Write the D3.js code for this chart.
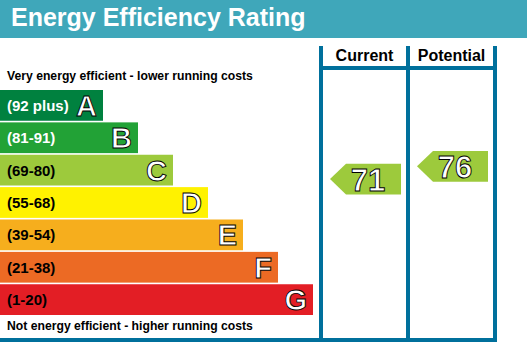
<!DOCTYPE html>
<html>
<head>
<meta charset="utf-8">
<script src="https://cdnjs.cloudflare.com/ajax/libs/d3/7.8.5/d3.min.js"></script>
<style>
  body { margin: 0; background: #fff; }
  text { font-family: "Liberation Sans", Arial, sans-serif; font-weight: bold; }
</style>
</head>
<body>
<div id="chart"></div>
<script>
// band data
var letters = ["A", "B", "C", "D", "E", "F", "G"];
var rangeLabels = ["(92 plus)", "(81-91)", "(69-80)", "(55-68)", "(39-54)", "(21-38)", "(1-20)"];
var bandLow = [92, 81, 69, 55, 39, 21, 1];
var bandHigh = [100, 91, 80, 68, 54, 38, 20];
var bandColors = ["#00813f", "#22a236", "#9dca3c", "#fff200", "#f6ae1d", "#ec6a24", "#e31e25"];
var labelColors = ["#fff", "#fff", "#000", "#000", "#000", "#000", "#000"];

// ratings
var columns = ["Current", "Potential"];
var ratings = [71, 76];

var width = 527, height = 354;
var lineColor = "#00709c";

var svg = d3.select("#chart").append("svg")
    .attr("width", width)
    .attr("height", height);

// title bar
svg.append("rect")
    .attr("width", width)
    .attr("height", 38)
    .attr("fill", "#3fa7ba");

svg.append("text")
    .attr("x", 11)
    .attr("y", 26)
    .attr("fill", "#fff")
    .style("font-size", "25px")
    .text("Energy Efficiency Rating");

// scales
var y = d3.scaleBand()
    .domain(letters)
    .range([90, 315])
    .paddingInner(0.05);

var w = d3.scaleLinear()
    .domain([0, letters.length - 1])
    .range([103, 313]);

// column lines x positions
var colX = d3.scaleLinear()
    .domain([0, columns.length])
    .range([321, 495]);

svg.append("text")
    .attr("x", 7)
    .attr("y", 80)
    .style("font-size", "12.2px")
    .text("Very energy efficient - lower running costs");

svg.append("text")
    .attr("x", 7)
    .attr("y", 330)
    .style("font-size", "12.2px")
    .text("Not energy efficient - higher running costs");

var bands = svg.selectAll("g.band")
    .data(letters)
    .enter()
    .append("g")
    .attr("class", "band");

bands.append("rect")
    .attr("x", 0)
    .attr("y", function(d){ return y(d); })
    .attr("width", function(d,i){ return w(i); })
    .attr("height", y.bandwidth())
    .attr("fill", function(d,i){ return bandColors[i]; });

bands.append("text")
    .attr("x", 7)
    .attr("y", function(d){ return y(d) + y.bandwidth()/2 + 5.5; })
    .attr("fill", function(d,i){ return labelColors[i]; })
    .style("font-size", "15px")
    .text(function(d,i){ return rangeLabels[i]; });

bands.append("text")
    .attr("x", function(d,i){ return w(i) - 6; })
    .attr("y", function(d){ return y(d) + y.bandwidth()/2 + 10.5; })
    .attr("text-anchor", "end")
    .attr("fill", "#fff")
    .attr("stroke", "#000")
    .attr("stroke-width", 0.9)
    .style("font-size", "29px")
    .text(function(d){ return d; });

// column frame
for (var c = 0; c <= columns.length; c++){
  svg.append("line")
    .attr("x1", colX(c)).attr("x2", colX(c))
    .attr("y1", 46).attr("y2", 342)
    .attr("stroke", lineColor)
    .attr("stroke-width", 4);
}
svg.append("line")
    .attr("x1", colX(0) - 2).attr("x2", colX(columns.length) + 2)
    .attr("y1", 68).attr("y2", 68)
    .attr("stroke", lineColor)
    .attr("stroke-width", 4);
svg.append("line")
    .attr("x1", 0).attr("x2", colX(columns.length) + 2)
    .attr("y1", 340).attr("y2", 340)
    .attr("stroke", lineColor)
    .attr("stroke-width", 4);

columns.forEach(function(name, i){
  svg.append("text")
    .attr("x", (colX(i) + colX(i+1))/2)
    .attr("y", 61)
    .attr("text-anchor", "middle")
    .style("font-size", "16px")
    .text(name);
});

// value -> y centre of arrow
function ratingY(v){
  var i = bandLow.findIndex(function(lo){ return v >= lo; });
  var frac = (v - bandLow[i] + 0.5) / (bandHigh[i] - bandLow[i] + 1);
  return y(letters[i]) + y.bandwidth() - frac * y.bandwidth();
}

ratings.forEach(function(v, i){
  var i2 = bandLow.findIndex(function(lo){ return v >= lo; });
  var cy = ratingY(v);
  var h = y.bandwidth();
  var x0 = colX(i) + 9, x1 = colX(i+1) - 7;
  var pts = [[x0, cy], [x0 + 16, cy - h/2], [x1, cy - h/2], [x1, cy + h/2], [x0 + 16, cy + h/2]];
  svg.append("path")
    .attr("d", d3.line()(pts) + "Z")
    .attr("fill", bandColors[i2]);
  svg.append("text")
    .attr("x", x0 + 38)
    .attr("y", cy + 12)
    .attr("text-anchor", "middle")
    .attr("fill", "#fff")
    .attr("stroke", "#000")
    .attr("stroke-width", 0.9)
    .style("font-size", "31px")
    .text(v);
});
</script>
</body>
</html>
